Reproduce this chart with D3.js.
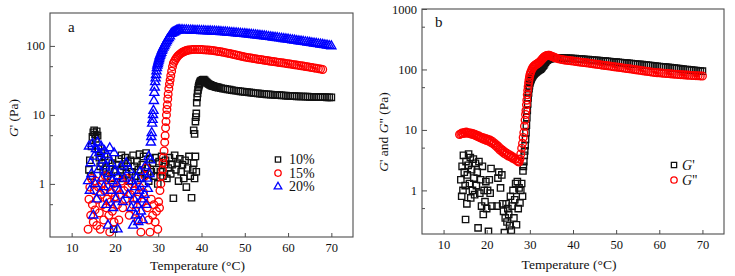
<!DOCTYPE html>
<html><head><meta charset="utf-8">
<script src="https://cdn.jsdelivr.net/npm/d3@7"></script>
<style>body{margin:0;background:#fff}svg{display:block;font-family:"Liberation Serif","Times New Roman",serif}</style>
</head><body>
<script>
// ---------- DATA ----------
// Panel a : G' of 10 %, 15 %, 20 % samples  [temperature °C, G' Pa]
const a10 = [
[14.0,1.6],[14.2,2.2],[14.4,1.3],[14.6,3.5],[14.8,4.8],[15.0,5.6],[15.2,6.0],[15.4,5.2],[15.6,4.5],[15.8,5.8],[16.0,5.0],[16.2,3.2],[16.4,2.4],[16.6,1.8],[16.8,2.8],[17.0,2.0],[17.3,1.5],[17.6,2.5],[17.9,1.7],[18.2,1.3],[18.5,2.2],[18.8,1.6],[19.1,1.2],[19.4,2.0],[19.7,0.22],[20.0,1.5],[20.3,1.9],[20.6,1.3],[20.9,2.3],[21.2,1.6],[21.5,2.6],[21.8,1.2],[22.1,1.8],[22.4,2.4],[22.7,1.4],[23.0,2.0],[23.3,1.1],[23.6,2.2],[23.9,1.5],[24.2,2.6],[24.5,1.8],[24.8,1.3],[25.1,2.1],[25.4,1.6],[25.7,2.7],[26.0,1.2],[26.3,1.9],[26.6,2.5],[26.9,1.4],[27.2,2.8],[27.5,1.7],[27.8,1.1],[28.1,2.3],[28.4,1.5],[28.7,2.0],[29.0,1.3],[29.3,2.4],[29.6,1.6],[29.9,1.0],[30.2,2.1],[30.5,1.5],[30.8,2.5],[31.1,1.3],[31.4,1.9],[31.7,2.2],[32.0,1.2],[32.3,1.7],[32.6,2.4],[32.9,1.4],[33.2,1.9],[33.5,0.62],[33.8,2.6],[34.1,1.6],[34.4,2.0],[34.7,1.1],[35.0,2.3],[35.3,1.5],[35.6,1.9],[35.9,1.2],[36.2,2.2],[36.5,0.9],[36.8,1.7],[37.1,2.5],[37.4,1.3],[37.7,0.63],[38.0,1.6],[38.2,2.0],[38.4,1.2],[38.6,2.5],[38.8,1.5],
[38.2,6.0],[38.4,5.3],[38.6,8.0],[38.7,9.3],[38.8,10.5],[38.9,15],[39.0,18],[39.1,20.5],[39.2,23],[39.3,25],[39.4,26.5],[39.5,28],[39.6,29],[39.7,30],[39.8,31],
[40.0,31.5],[40.25,32.2],[40.5,32.5],[40.75,31.6],[41.0,30.5],[41.25,29.4],[41.5,28.5],[41.75,27.8],[42.0,27.2],[42.25,26.8],[42.5,26.4],[42.75,26.1],[43.0,25.8],[43.25,25.5],[43.5,25.3],[43.75,25.1],[44.0,24.9],[44.5,24.5],[45.0,24.1],[45.5,23.8],[46.0,23.5],[46.5,23.2],[47.0,22.9],[47.5,22.6],[48.0,22.4],[48.5,22.2],[49.0,22.0],[49.5,21.8],[50.0,21.6],[50.5,21.4],[51.0,21.2],[51.5,21.0],[52.0,20.8],[52.5,20.6],[53.0,20.5],[53.5,20.3],[54.0,20.2],[54.5,20.0],[55.0,19.9],[55.5,19.8],[56.0,19.7],[56.5,19.6],[57.0,19.5],[57.5,19.4],[58.0,19.3],[58.5,19.2],[59.0,19.1],[59.5,19.0],[60.0,18.9],[60.5,18.8],[61.0,18.8],[61.5,18.7],[62.0,18.6],[62.5,18.6],[63.0,18.5],[63.5,18.5],[64.0,18.4],[64.5,18.4],[65.0,18.3],[65.5,18.3],[66.0,18.2],[66.5,18.2],[67.0,18.2],[67.5,18.1],[68.0,18.1],[68.5,18.1],[69.0,18.0],[69.5,18.0],[70.0,18.0]
];
const a15 = [
[13.8,0.22],[14.0,0.6],[14.2,0.9],[14.4,0.35],[14.6,1.2],[14.8,0.5],[15.0,0.28],[15.2,0.8],[15.4,0.42],[15.6,1.1],[15.8,0.25],[16.0,0.6],[16.2,0.9],[16.4,0.38],[16.6,0.22],[16.8,0.7],[17.0,1.0],[17.2,0.5],[17.4,0.3],[17.6,0.8],[17.8,1.3],[18.0,0.45],[18.2,0.6],[18.4,0.9],[18.6,0.35],[18.8,0.2],[19.0,0.55],[19.2,0.75],[19.4,0.4],[19.6,1.0],[19.8,0.28],[20.0,0.65],[20.3,0.85],[20.6,0.5],[20.9,0.3],[21.2,0.7],[21.5,1.1],[21.8,0.45],[22.1,0.8],[22.4,0.6],[22.7,1.2],[23.0,0.9],[23.3,0.35],[23.6,0.7],[23.9,1.0],[24.2,0.5],[24.5,0.8],[24.8,0.4],[25.1,0.6],[25.4,0.3],[25.7,0.9],[26.0,0.2],[26.3,0.55],[26.6,0.75],[26.9,1.3],[27.2,1.7],[27.5,0.45],[27.8,0.3],[28.1,0.2],[28.4,0.6],[28.7,0.35],[29.0,0.5],[29.3,0.28],[29.6,0.4],[29.9,0.22],[30.1,0.55],[30.3,0.45],
[30.4,0.8],[30.6,1.0],[30.8,1.3],[31.0,1.6],[31.1,2.0],[31.2,2.4],[31.35,3.0],[31.5,4.0],[31.6,5.0],[31.7,6.5],[31.8,8.0],[31.9,10],[32.0,12],[32.1,14],[32.2,17],[32.3,20],[32.45,24],[32.6,28],[32.75,32],[32.9,37],[33.1,43],[33.3,50],
[33.5,56],[33.75,60],[34.0,64],[34.25,67.5],[34.5,71],[34.75,73.5],[35.0,76],[35.25,78],[35.5,80],[35.75,81.5],[36.0,83],[36.25,84.3],[36.5,85.5],[36.75,86.3],[37.0,87],[37.5,88],[38.0,88.5],[38.5,89],[39.0,89],[39.5,88.8],[40.0,88.5],[40.5,88],[41.0,87.5],[41.5,87],[42.0,86.5],[42.5,86],[43.0,85],[43.5,84],[44.0,83],[44.5,82],[45.0,81],[45.5,79.8],[46.0,78.6],[46.5,77.4],[47.0,76.2],[47.5,75],[48.0,73.8],[48.5,72.6],[49.0,71.4],[49.5,70.2],[50.0,69],[50.5,68.2],[51.0,67.4],[51.5,66.6],[52.0,65.8],[52.5,65],[53.0,64.2],[53.5,63.5],[54.0,62.8],[54.5,62.1],[55.0,61.4],[55.5,60.7],[56.0,60],[56.5,59.4],[57.0,58.8],[57.5,58.2],[58.0,57.6],[58.5,57],[59.0,56.4],[59.5,55.8],[60.0,55.2],[60.5,54.6],[61.0,54],[61.5,53.4],[62.0,52.8],[62.5,52.2],[63.0,51.6],[63.5,51],[64.0,50.4],[64.5,49.8],[65.0,49.2],[65.5,48.6],[66.0,48],[66.5,47.4],[67.0,46.8],[67.5,46.2],[68.0,45.6]
];
const a20 = [
[13.8,1.1],[14.0,3.5],[14.2,0.8],[14.4,2.0],[14.6,1.4],[14.8,3.8],[15.0,0.35],[15.2,2.5],[15.4,1.0],[15.6,3.2],[15.8,0.6],[16.0,4.0],[16.2,1.6],[16.4,2.8],[16.6,0.75],[16.8,3.5],[17.0,1.2],[17.2,2.2],[17.4,0.9],[17.6,3.0],[17.8,1.8],[18.0,0.5],[18.2,2.6],[18.4,0.25],[18.6,1.4],[18.8,3.3],[19.0,0.8],[19.2,2.0],[19.4,1.1],[19.6,0.45],[19.8,2.8],[20.0,1.5],[20.2,0.6],[20.4,1.0],[20.6,0.22],[20.8,1.3],[21.0,0.8],[21.4,1.8],[21.8,0.55],[22.2,1.2],[22.6,2.0],[23.0,0.7],[23.4,1.6],[23.8,0.45],[24.0,1.1],[24.2,0.25],[24.4,0.6],[24.6,0.9],[24.8,0.35],[25.0,1.2],[25.2,0.5],[25.4,0.28],[25.6,0.8],[25.8,1.5],[26.0,0.4],[26.2,0.6],[26.4,0.3],[26.6,1.0],[26.8,0.7],[27.0,1.8],[27.2,0.5],[27.4,1.2],[27.6,0.85],[27.8,2.5],[28.0,1.4],[28.2,2.2],
[28.3,4.0],[28.4,4.8],[28.5,5.5],[28.6,7.5],[28.7,8.5],[28.8,10],[28.9,11.5],[29.0,16],[29.1,21],[29.2,25],[29.3,30],[29.4,34],[29.5,38],[29.6,43],[29.7,48],[29.8,52],[29.9,55],[30.0,58],[30.1,61.5],[30.2,65],[30.3,68.5],[30.4,72],[30.55,76],[30.7,80],[30.85,85],[31.0,90],[31.2,95],[31.4,100],[31.6,106],[31.8,112],[32.0,118],[32.2,125],[32.45,131],[32.7,138],
[33.0,150],[33.25,154],[33.5,157],[33.75,160],[34.0,163],[34.25,166],[34.5,168],[34.75,170],[35.0,171],[35.5,171],[36.0,170],[36.5,169],[37.0,168.5],[37.5,168],[38.0,167.5],[38.5,167],[39.0,166.5],[39.5,166],[40.0,165.5],[40.5,165],[41.0,164.5],[41.5,164],[42.0,163.3],[42.5,162.6],[43.0,162],[43.5,161.3],[44.0,160.6],[44.5,160],[45.0,159],[45.5,158],[46.0,157],[46.5,156],[47.0,155],[47.5,154],[48.0,153],[48.5,152],[49.0,151],[49.5,150],[50.0,149],[50.5,147.8],[51.0,146.6],[51.5,145.4],[52.0,144.2],[52.5,143],[53.0,141.8],[53.5,140.6],[54.0,139.4],[54.5,138.2],[55.0,137],[55.5,135.7],[56.0,134.4],[56.5,133.1],[57.0,131.8],[57.5,130.5],[58.0,129.2],[58.5,127.9],[59.0,126.6],[59.5,125.3],[60.0,124],[60.5,122.7],[61.0,121.4],[61.5,120.1],[62.0,118.8],[62.5,117.5],[63.0,116.2],[63.5,115],[64.0,113.8],[64.5,112.6],[65.0,111.4],[65.5,110.2],[66.0,109],[66.5,107.8],[67.0,106.6],[67.5,105.4],[68.0,104.2],[68.5,103],[69.0,101.8],[69.5,100.6],[70.0,99.5]
];
// Panel b : G' and G'' of one sample
const bGp = [
[14.0,1.5],[14.2,0.8],[14.3,2.5],[14.5,1.0],[14.6,3.8],[14.8,2.0],[15.0,1.2],[15.1,0.33],[15.2,3.0],[15.4,0.6],[15.5,1.8],[15.7,2.6],[15.8,4.0],[16.0,1.3],[16.2,3.5],[16.3,0.75],[16.5,2.2],[16.7,1.0],[16.9,3.3],[17.0,1.6],[17.2,0.85],[17.4,2.8],[17.6,1.2],[17.8,2.0],[18.0,0.24],[18.2,3.0],[18.4,0.9],[18.6,1.5],[18.8,0.55],[19.0,2.5],[19.2,0.4],[19.4,1.0],[19.6,0.65],[19.8,1.4],[20.0,0.5],[20.2,1.0],[20.4,0.21],[20.6,1.5],[20.8,0.9],[21.0,2.3],[21.2,0.55],[22.4,0.55],[22.6,1.6],[22.8,2.0],[23.2,1.1],[23.5,1.8],[23.7,0.6],[23.9,0.45],[24.1,0.2],[24.3,0.35],[24.5,0.6],[24.7,0.3],[24.9,0.5],[25.1,0.4],[25.3,0.26],[25.5,0.8],[25.7,0.22],[25.9,0.55],[26.1,1.0],[26.3,0.35],[26.5,0.7],[26.7,1.3],[26.9,0.27],[27.1,1.4],[27.3,0.5],[27.5,1.1],[27.7,0.62],[27.9,1.0],[28.1,1.3],[28.3,0.8],[28.4,2.1],[28.5,2.5],
[28.6,3.0],[28.7,3.8],[28.8,4.5],[28.9,5.5],[29.0,7.0],[29.1,9.0],[29.2,12],[29.3,16],[29.4,21],[29.5,27],[29.6,34],[29.7,41],[29.8,48],[29.9,54],[30.0,60],[30.1,63.5],[30.2,67],[30.3,70],[30.4,73],[30.5,75.5],[30.6,78],[30.7,80],[30.8,82],[30.9,83.5],[31.0,85],[31.15,87],[31.3,89],[31.45,91],[31.6,93],[31.8,95],[32.0,97],[32.2,99],[32.4,101],[32.6,104],[32.8,108],[33.0,113],[33.2,118],[33.4,125],[33.6,132],[33.8,138],
[34.0,143],[34.25,146.5],[34.5,149],[34.75,151],[35.0,152],[35.5,154],[36.0,155],[36.5,155],[37.0,155],[37.5,154.5],[38.0,154],[38.5,153.5],[39.0,153],[39.5,152.5],[40.0,152],[40.5,151],[41.0,150],[41.5,149],[42.0,148],[42.5,147],[43.0,146],[43.5,145],[44.0,144],[44.5,143],[45.0,142],[45.5,141],[46.0,140],[46.5,139],[47.0,138],[47.5,137],[48.0,136],[48.5,135],[49.0,134],[49.5,133],[50.0,132],[50.5,131],[51.0,130],[51.5,129],[52.0,128],[52.5,127],[53.0,126],[53.5,125],[54.0,124],[54.5,123],[55.0,122],[55.5,121],[56.0,120],[56.5,119],[57.0,118],[57.5,117],[58.0,116],[58.5,115],[59.0,114],[59.5,113],[60.0,112],[60.5,111],[61.0,110],[61.5,109],[62.0,108],[62.5,107],[63.0,106],[63.5,105],[64.0,104],[64.5,103],[65.0,102],[65.5,101],[66.0,100],[66.5,99.2],[67.0,98.4],[67.5,97.6],[68.0,96.8],[68.5,96],[69.0,95.2],[69.5,94.4],[70.0,93.6]
];
const bGpp = [
[13.7,8.4],[14.0,8.6],[14.25,8.9],[14.5,8.7],[14.75,9.1],[15.0,8.8],[15.25,9.2],[15.5,8.9],[15.75,9.0],[16.0,8.7],[16.25,8.9],[16.5,8.5],[16.75,8.7],[17.0,8.3],[17.25,8.5],[17.5,8.0],[17.75,8.2],[18.0,7.7],[18.25,7.9],[18.5,7.4],[18.75,7.6],[19.0,7.1],[19.25,7.4],[19.5,6.9],[19.75,7.2],[20.0,6.7],[20.25,7.0],[20.5,6.5],[20.75,6.8],[21.0,6.2],[21.25,6.5],[21.5,5.9],[21.75,6.1],[22.0,5.5],[22.25,5.7],[22.5,5.1],[22.75,5.3],[23.0,4.7],[23.25,4.9],[23.5,4.4],[23.75,4.6],[24.0,4.1],[24.25,4.3],[24.5,3.9],[24.75,4.1],[25.0,3.7],[25.25,3.9],[25.5,3.6],[25.75,3.7],[26.0,3.4],[26.25,3.5],[26.5,3.25],[26.75,3.3],[27.0,3.1],[27.25,3.0],[27.5,2.95],
[27.7,3.3],[27.9,4.0],[28.1,5.0],[28.3,6.0],[28.45,7.5],[28.6,9.0],[28.75,11.5],[28.9,14.5],[29.0,18],[29.1,21],[29.2,26],[29.3,31],[29.4,38],[29.5,45],[29.6,52],[29.7,60],[29.8,67],[29.9,74],[30.0,81],[30.15,88],[30.3,94],[30.5,102],[30.7,108],[30.85,111],[31.0,114],[31.15,116.5],[31.3,119],[31.45,121],[31.6,123],[31.8,125.5],[32.0,128],[32.2,132],[32.4,136],[32.6,141],[32.8,147],[33.0,152],[33.2,158],[33.4,162],[33.6,166],[33.8,168.5],
[34.0,170],[34.25,171],[34.5,171],[34.75,168.5],[35.0,166],[35.25,163],[35.5,160],[35.75,157.5],[36.0,155],[36.5,151],[37.0,148],[37.5,145.5],[38.0,143.5],[38.5,142],[39.0,140.5],[39.5,139],[40.0,137.5],[40.5,136],[41.0,134.5],[41.5,133],[42.0,131.6],[42.5,130.2],[43.0,128.8],[43.5,127.4],[44.0,126],[44.5,124.6],[45.0,123.2],[45.5,121.8],[46.0,120.4],[46.5,119],[47.0,117.6],[47.5,116.3],[48.0,115],[48.5,113.7],[49.0,112.4],[49.5,111.1],[50.0,109.8],[50.5,108.6],[51.0,107.4],[51.5,106.2],[52.0,105],[52.5,103.8],[53.0,102.6],[53.5,101.4],[54.0,100.2],[54.5,99],[55.0,97.8],[55.5,96.7],[56.0,95.6],[56.5,94.5],[57.0,93.4],[57.5,92.3],[58.0,91.2],[58.5,90.2],[59.0,89.2],[59.5,88.2],[60.0,88],[60.5,87.3],[61.0,86.6],[61.5,86],[62.0,85.4],[62.5,84.8],[63.0,84.2],[63.5,83.6],[64.0,83],[64.5,82.5],[65.0,82],[65.5,81.5],[66.0,81],[66.5,80.6],[67.0,80.2],[67.5,79.8],[68.0,79.4],[68.5,79],[69.0,78.6],[69.5,78.3],[70.0,78]
];
const xTicks = [10,20,30,40,50,60,70];
const yTicksA = [1,10,100], yMinorA = [0.5,5,50];
const yTicksB = [1,10,100,1000], yMinorB = [0.5,5,50,500];
const legendA = ["10%","15%","20%"];
const legendB = ["G'","G''"];

// ---------- DRAW ----------
const svg = d3.select("body").append("svg").attr("width",735).attr("height",276);
const frameCol = "#4d4d4d";
const symbols = {
  square:{type:d3.symbolSquare,size:40,color:"#111"},
  circle:{type:d3.symbolCircle,size:46,color:"#ff0000"},
  triangle:{type:d3.symbolTriangle,size:36,color:"#0000ff"}
};

function panel(o){
  const x = d3.scaleLinear().domain([5,75]).range([o.left,o.right]);
  const y = d3.scaleLog().domain(o.yDomain).range([o.bottom,o.top]);
  const g = svg.append("g");
  const cid = "clip"+o.id;
  svg.append("clipPath").attr("id",cid).append("rect")
    .attr("x",o.left).attr("y",o.top).attr("width",o.right-o.left).attr("height",o.bottom-o.top);
  const pg = g.append("g").attr("clip-path",`url(#${cid})`);
  o.series.forEach(s=>{
    const sy = symbols[s.sym];
    pg.append("g").selectAll("path").data(s.data).join("path")
      .attr("d",d3.symbol().type(sy.type).size(sy.size))
      .attr("transform",d=>`translate(${x(d[0])},${y(d[1])})`)
      .attr("fill","none").attr("stroke",sy.color).attr("stroke-width",1.35);
  });
  // frame
  g.append("rect").attr("x",o.left).attr("y",o.top).attr("width",o.right-o.left).attr("height",o.bottom-o.top)
    .attr("fill","none").attr("stroke",frameCol).attr("stroke-width",1.1);
  // x axis
  const xa = g.append("g").attr("transform",`translate(0,${o.bottom})`)
    .call(d3.axisBottom(x).tickValues(xTicks).tickSize(-4).tickPadding(6).tickFormat(d3.format("d")));
  xa.select(".domain").remove();
  xa.selectAll("line").attr("stroke",frameCol);
  xa.selectAll("text").attr("font-size",12.5).attr("fill","#111").attr("font-family","Liberation Serif");
  // y axis
  const ya = g.append("g").attr("transform",`translate(${o.left},0)`)
    .call(d3.axisLeft(y).tickValues(o.yTicks).tickSize(-5).tickPadding(5).tickFormat(d3.format("d")));
  ya.select(".domain").remove();
  ya.selectAll("line").attr("stroke",frameCol);
  ya.selectAll("text").attr("font-size",12.5).attr("fill","#111").attr("font-family","Liberation Serif");
  g.append("g").selectAll("line").data(o.yMinor).join("line")
    .attr("x1",o.left).attr("x2",o.left+3).attr("y1",d=>y(d)).attr("y2",d=>y(d)).attr("stroke",frameCol);
  // x title
  g.append("text").attr("x",(o.left+o.right)/2-4).attr("y",o.xTitleY).attr("text-anchor","middle")
    .attr("font-size",13.5).attr("fill","#111").text("Temperature (°C)");
  // y title
  const yt = g.append("text").attr("transform",`translate(${o.yTitleX},${o.yTitleY}) rotate(-90)`)
    .attr("text-anchor","middle").attr("font-size",13.5).attr("fill","#111");
  o.yTitle.forEach(p=>yt.append("tspan").attr("font-style",p.it?"italic":"normal").text(p.t));
  // panel letter
  g.append("text").attr("x",o.letterX).attr("y",o.letterY).attr("font-size",15).attr("fill","#111").text(o.letter);
  // legend
  o.legend.forEach((l,i)=>{
    const sy = symbols[l.sym];
    const ly = o.legY + i*o.legDy;
    g.append("path").attr("d",d3.symbol().type(sy.type).size(sy.size*0.7)())
      .attr("transform",`translate(${o.legX},${ly})`).attr("fill","none").attr("stroke",sy.color).attr("stroke-width",1.3);
    const t = g.append("text").attr("x",o.legX+o.legTx).attr("y",ly+4.5).attr("font-size",o.legFont).attr("fill","#111");
    if(l.it){ t.append("tspan").attr("font-style","italic").text(l.label[0]); t.append("tspan").text(l.label.slice(1)); }
    else t.text(l.label);
  });
}

panel({id:"a",left:50,right:353,top:13,bottom:237,yDomain:[0.17,300],yTicks:yTicksA,yMinor:yMinorA,
  xTitleY:270,yTitleX:18,yTitleY:118,yTitle:[{t:"G",it:true},{t:"' (Pa)"}],letter:"a",letterX:68,letterY:32,
  series:[{data:a10,sym:"square"},{data:a15,sym:"circle"},{data:a20,sym:"triangle"}],
  legend:[{label:legendA[0],sym:"square"},{label:legendA[1],sym:"circle"},{label:legendA[2],sym:"triangle"}],
  legX:278,legY:159.5,legDy:13.6,legTx:11,legFont:14});

panel({id:"b",left:422,right:724,top:9,bottom:234,yDomain:[0.19,1000],yTicks:yTicksB,yMinor:yMinorB,
  xTitleY:269,yTitleX:388,yTitleY:132,yTitle:[{t:"G",it:true},{t:"' and "},{t:"G",it:true},{t:"\" (Pa)"}],letter:"b",letterX:435,letterY:27,
  series:[{data:bGp,sym:"square"},{data:bGpp,sym:"circle"}],
  legend:[{label:legendB[0],sym:"square",it:true},{label:legendB[1],sym:"circle",it:true}],
  legX:674,legY:165,legDy:15,legTx:8,legFont:14});
</script>
</body></html>
